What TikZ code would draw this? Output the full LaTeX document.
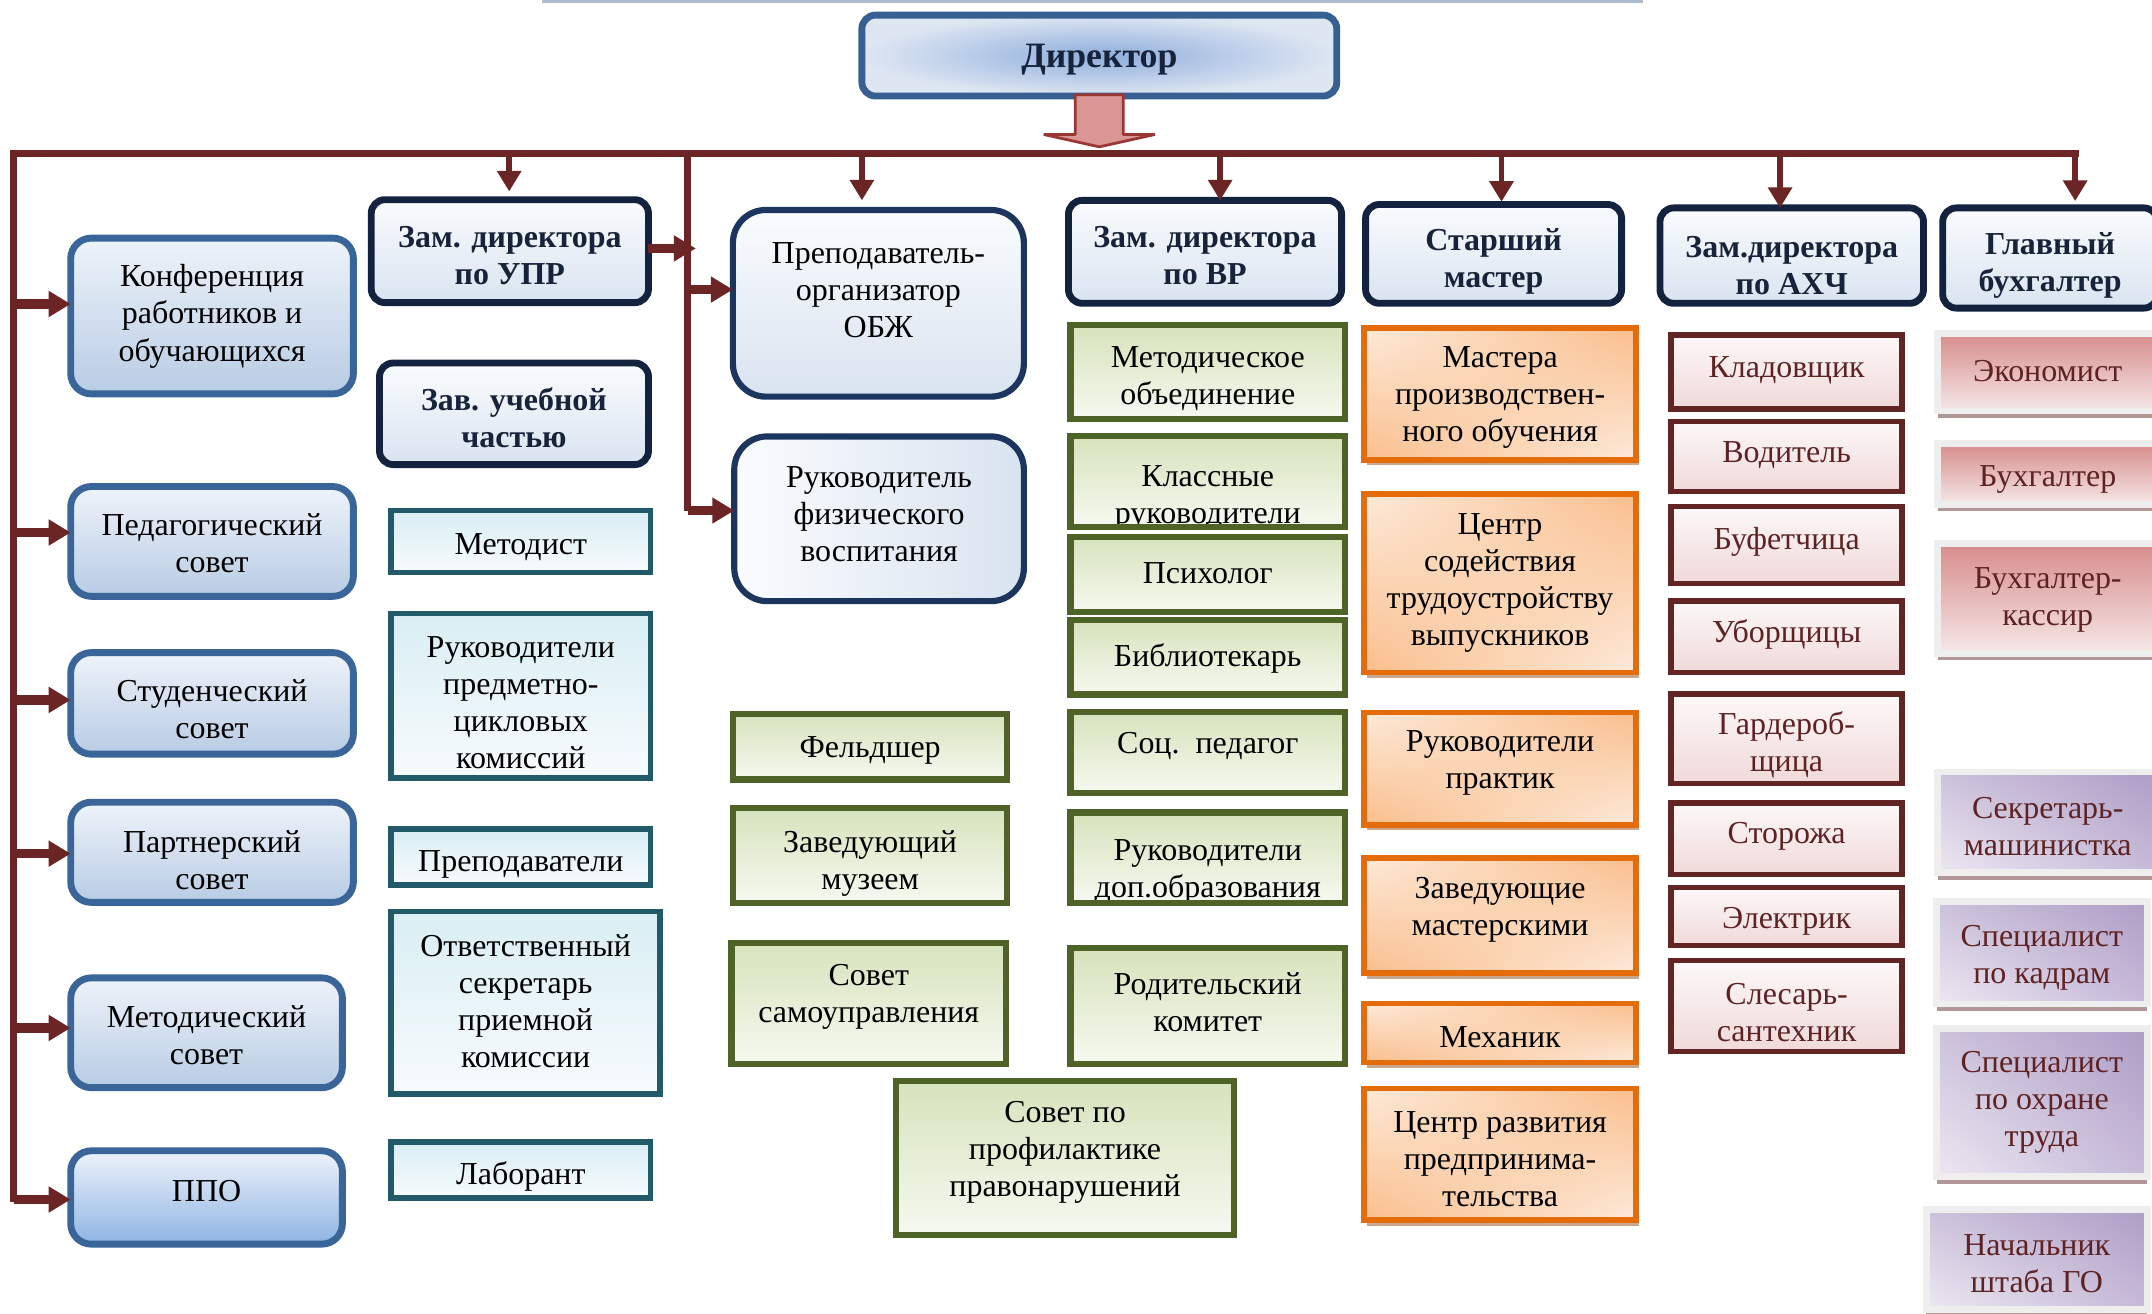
\documentclass[tikz,border=0pt]{standalone}
\usepackage{fontspec}
\setmainfont{Liberation Serif}
\usetikzlibrary{arrows.meta,shadows,shadings,calc}

\definecolor{cline}{HTML}{6B2525}
\definecolor{navy}{HTML}{13233F}
\definecolor{navyt}{HTML}{17233A}
\definecolor{hdrtop}{HTML}{FAFCFE}
\definecolor{hdrbot}{HTML}{D9E3F0}
\definecolor{dirb}{HTML}{375F92}
\definecolor{dirin}{HTML}{8EAEDC}
\definecolor{dirout}{HTML}{DEE6F2}
\definecolor{lftb}{HTML}{3A6598}
\definecolor{lfttop}{HTML}{EEF3FA}
\definecolor{lftbot}{HTML}{B8CCE4}
\definecolor{ppobot}{HTML}{8EB4E3}
\definecolor{obzhb}{HTML}{1B355E}
\definecolor{tealb}{HTML}{215A69}
\definecolor{tealtop}{HTML}{D9EEF4}
\definecolor{tealbot}{HTML}{F7FBFD}
\definecolor{grnb}{HTML}{4F6228}
\definecolor{grntop}{HTML}{D6E3BC}
\definecolor{grnbot}{HTML}{F6F9F0}
\definecolor{orb}{HTML}{E46C0A}
\definecolor{orlight}{HTML}{FDEADA}
\definecolor{ordark}{HTML}{F9BE8C}
\definecolor{orsh}{HTML}{C9A78E}
\definecolor{redb}{HTML}{632523}
\definecolor{redtop}{HTML}{FDF8F8}
\definecolor{redbot}{HTML}{F0D9D9}
\definecolor{redtx}{HTML}{5E2222}
\definecolor{frm}{HTML}{EEEEEE}
\definecolor{pktop}{HTML}{D68C8B}
\definecolor{pkbot}{HTML}{F6E8E8}
\definecolor{pksh}{HTML}{B39797}
\definecolor{puUR}{HTML}{AE9DC6}
\definecolor{puUL}{HTML}{CCC2DB}
\definecolor{puLL}{HTML}{ECE8F2}
\definecolor{puLR}{HTML}{C6BAD8}
\definecolor{topln}{HTML}{AEBBCB}
\definecolor{blkf}{HTML}{D99694}
\definecolor{blkd}{HTML}{9A3735}

\newcommand\fs{\fontsize{23.3pt}{27pt}\selectfont}

% #1 box style, #2 name, #3 x1, #4 y1, #5 x2, #6 y2, #7 text y, #8 text style, #9 text
\newcommand\bx[9]{%
  \node[#1, minimum width={(#5-#3)*1pt}, minimum height={(#6-#4)*1pt}] (#2) at ({(#3+#5)/2},{(#4+#6)/2}) {};
  \node[txt, #8] (#2t) at ({(#3+#5)/2},#7) {#9};
}

\tikzset{
  txt/.style={align=center, inner sep=0pt, font=\fs, text=black, yshift=-2.5pt},
  hdrt/.style={font=\fs\bfseries, text=navyt},
  redt/.style={text=redtx},
  box/.style={inner sep=0pt, outer sep=0pt},
  dirbox/.style={box, draw=dirb, line width=5pt, rounded corners=10pt, inner color=dirin, outer color=dirout},
  hdr/.style={box, draw=navy, line width=5pt, rounded corners=10pt, top color=hdrtop, bottom color=hdrbot},
  big/.style={box, draw=obzhb, line width=4.5pt, rounded corners=24pt, top color=hdrtop, bottom color=hdrbot},
  bigh/.style={box, draw=obzhb, line width=4.5pt, rounded corners=24pt, left color=hdrtop, right color=hdrbot},
  lft/.style={box, draw=lftb, line width=5pt, rounded corners=15pt, top color=lfttop, bottom color=lftbot},
  lftp/.style={lft, bottom color=ppobot},
  teal/.style={box, draw=tealb, line width=4pt, top color=tealtop, bottom color=tealbot},
  grn/.style={box, draw=grnb, line width=4.5pt, top color=grntop, bottom color=grnbot},
  org/.style={box, draw=orb, line width=4pt, upper left=orlight, upper right=ordark, lower left=ordark, lower right=orlight,
     drop shadow={shadow xshift=2pt, shadow yshift=-4pt, fill=orsh, opacity=1}},
  redbox/.style={box, draw=redb, line width=4pt, top color=redtop, bottom color=redbot},
  pink/.style={box, draw=frm, line width=5pt, top color=pktop, bottom color=pkbot,
     drop shadow={shadow xshift=0pt, shadow yshift=-5pt, fill=pksh, opacity=1}},
  purp/.style={box, draw=frm, line width=5pt, upper left=puUL, upper right=puUR, lower left=puLL, lower right=puLR,
     drop shadow={shadow xshift=0pt, shadow yshift=-5pt, fill=pksh, opacity=1}},
  bus/.style={draw=cline, line width=5pt},
  drop/.style={draw=cline, line width=4pt, -{Triangle[width=17pt,length=15pt]}},
  larr/.style={draw=cline, line width=7pt, -{Triangle[width=18pt,length=16pt]}},
  blk/.style={fill=blkf, draw=blkd, line width=2pt, line join=bevel},
}

\begin{document}
\begin{tikzpicture}[x=1pt,y=-1pt]
\useasboundingbox (0,0) rectangle (1568,957);
\fill[white] (0,0) rectangle (1568,957);
\begin{scope}
\clip (0,0) rectangle (1568,957);

\coordinate (tlL) at (395,1);
\coordinate (tlR) at (1197,1);
\draw[topln, line width=2pt] (tlL) -- (tlR);

% Director
\bx{dirbox}{dir}{628}{11}{974}{70}{41}{font=\fontsize{26pt}{30pt}\selectfont\bfseries, text=navyt}{Директор}

% header boxes
\bx{hdr}{upr}{270.5}{145.5}{472.5}{220.5}{184}{hdrt}{Зам. директора\\по УПР}
\bx{hdr}{zav}{276.5}{264.5}{472.5}{338.5}{302}{hdrt}{Зав. учебной\\частью}
\bx{big}{obzh}{534}{153}{746}{289}{209}{}{Преподаватель-\\организатор\\ОБЖ}
\bx{bigh}{fiz}{535}{318}{746}{438}{372}{}{Руководитель\\физического\\воспитания}
\bx{hdr}{vr}{778.5}{146}{977.5}{221}{184}{hdrt}{Зам. директора\\по ВР}
\bx{hdr}{stm}{995}{149}{1181.5}{221}{188}{hdrt}{Старший\\мастер}
\bx{hdr}{ahch}{1209.5}{151.5}{1401.5}{221}{191}{hdrt}{Зам.директора\\по АХЧ}
\bx{hdr}{glb}{1415.5}{151.5}{1572}{224.5}{191}{hdrt}{Главный\\бухгалтер}

% left column
\bx{lft}{konf}{51.5}{173.5}{257.5}{287}{228}{}{Конференция\\работников и\\обучающихся}
\bx{lft}{ped}{51.5}{354.5}{257.5}{434.5}{393.5}{}{Педагогический\\совет}
\bx{lft}{stud}{51.5}{475.5}{257.5}{549.5}{514.5}{}{Студенческий\\совет}
\bx{lft}{part}{51.5}{584.5}{257.5}{657.5}{624.5}{}{Партнерский\\совет}
\bx{lft}{msov}{51.5}{712.5}{249.5}{792.5}{751.5}{}{Методический\\совет}
\bx{lftp}{ppo}{51.5}{838.5}{249.5}{906.5}{865}{}{ППО}

% teal column
\bx{teal}{metod}{285}{372}{474}{417}{396}{}{Методист}
\bx{teal}{pck}{285}{447}{474}{567}{509.5}{}{Руководители\\предметно-\\цикловых\\комиссий}
\bx{teal}{prep}{285}{604}{474}{645}{627}{}{Преподаватели}
\bx{teal}{otv}{285}{664}{481}{797}{727}{}{Ответственный\\секретарь\\приемной\\комиссии}
\bx{teal}{lab}{285}{832}{474}{873}{855}{}{Лаборант}

% green
\bx{grn}{mo}{780}{237}{980}{305.5}{273.5}{}{Методическое\\объединение}
\node[grn, minimum width=200pt, minimum height=66.5pt] (kl) at (880,350.75) {};
\begin{scope}
\clip ([yshift=2.5pt]kl.south west) rectangle (kl.north east);
\node[txt] (klt) at (880,360) {Классные\\руководители};
\end{scope}
\bx{grn}{psy}{780}{391}{980}{446}{415}{}{Психолог}
\bx{grn}{bib}{780}{452}{980}{506}{477}{}{Библиотекарь}
\bx{grn}{soc}{780}{519}{980}{578}{541}{}{Соц.\ \ педагог}
\node[grn, minimum width=200pt, minimum height=66pt] (dop) at (880,625) {};
\begin{scope}
\clip ([yshift=2.5pt]dop.south west) rectangle (dop.north east);
\node[txt] (dopt) at (880,633) {Руководители\\доп.образования};
\end{scope}
\bx{grn}{rod}{780}{691}{980}{775}{727.5}{}{Родительский\\комитет}
\bx{grn}{feld}{534}{520}{734}{568}{544}{}{Фельдшер}
\bx{grn}{muz}{534}{589}{734}{658}{626.5}{}{Заведующий\\музеем}
\bx{grn}{ssam}{533}{687}{733}{775}{723.5}{}{Совет\\самоуправления}
\bx{grn}{prof}{653}{787.5}{899}{900}{837}{}{Совет по\\профилактике\\правонарушений}

% orange
\bx{org}{mpo}{994}{239}{1192}{335}{287}{}{Мастера\\производствен-\\ного обучения}
\bx{org}{csod}{994}{360}{1192}{490}{422.5}{}{Центр\\содействия\\трудоустройству\\выпускников}
\bx{org}{rprak}{994}{519}{1192}{601}{553.5}{}{Руководители\\практик}
\bx{org}{zmas}{994}{625}{1192}{709}{660.5}{}{Заведующие\\мастерскими}
\bx{org}{mech}{994}{731}{1192}{774}{753}{}{Механик}
\bx{org}{crazv}{994}{793}{1192}{889}{842}{}{Центр развития\\предпринима-\\тельства}

% dark red
\bx{redbox}{klad}{1217.5}{244}{1386}{298}{267}{redt}{Кладовщик}
\bx{redbox}{vod}{1217.5}{307}{1386}{358}{329}{redt}{Водитель}
\bx{redbox}{buf}{1217.5}{369}{1386}{425}{392}{redt}{Буфетчица}
\bx{redbox}{ubor}{1217.5}{438}{1386}{490}{460}{redt}{Уборщицы}
\bx{redbox}{gard}{1217.5}{505.5}{1386}{571}{540.5}{redt}{Гардероб-\\щица}
\bx{redbox}{stor}{1217.5}{585}{1386}{637}{607}{redt}{Сторожа}
\bx{redbox}{elek}{1217.5}{646.5}{1386}{689}{669}{redt}{Электрик}
\bx{redbox}{sles}{1217.5}{700}{1386}{766}{735.5}{redt}{Слесарь-\\сантехник}

% pink / purple
\bx{pink}{ekon}{1412}{243}{1572}{299.5}{268}{redt}{Экономист}
\bx{pink}{buh}{1412}{323}{1572}{367.5}{347}{redt}{Бухгалтер}
\bx{pink}{bkas}{1412}{396}{1572}{476}{434.5}{redt}{Бухгалтер-\\кассир}
\bx{purp}{sekr}{1412}{562.5}{1572}{636}{600}{redt}{Секретарь-\\машинистка}
\bx{purp}{kadr}{1411}{657}{1564.5}{731.5}{695.5}{redt}{Специалист\\по кадрам}
\bx{purp}{ohr}{1411}{749.5}{1564.5}{857.5}{801}{redt}{Специалист\\по охране\\труда}
\bx{purp}{go}{1403.5}{881}{1564.5}{954}{918.5}{redt}{Начальник\\штаба ГО}

% connectors
\coordinate (busL) at (10,112);
\coordinate (busR) at (1514.5,112);
\coordinate (lvB) at (10,876);
\draw[bus] (busR) -- (busL) -- (lvB);

\draw[blk] ([xshift=-17.5pt,yshift=1pt]dir.south) -- ++(35,0) -- ++(0,29) -- ++(23,0) -- ++(-40.5,9) -- ++(-40.5,-9) -- ++(23,0) -- cycle;

\coordinate (v2T) at (501,112);
\coordinate (v2B) at (501,372);
\draw[bus] (v2T) -- (v2B);

\coordinate (d1) at (371,112);
\coordinate (d2) at (628,112);
\coordinate (d3) at (889,112);
\coordinate (d4) at (1094,112);
\coordinate (d5) at (1297,112);
\coordinate (d6) at (1512,112);
\draw[drop, shorten >=6pt] (d1) -- (d1 |- upr.north);
\draw[drop, shorten >=7pt] (d2) -- (d2 |- obzh.north);
\draw[drop] (d3) -- (d3 |- vr.north);
\draw[drop, shorten >=2pt] (d4) -- (d4 |- stm.north);
\draw[drop] (d5) -- (d5 |- ahch.north);
\draw[drop, shorten >=5pt] (d6) -- (d6 |- glb.north);

\coordinate (a1) at (10,221.5);
\coordinate (a2) at (10,388);
\coordinate (a3) at (10,510);
\coordinate (a4) at (10,622);
\coordinate (a5) at (10,749);
\coordinate (a6) at (10,874);
\draw[larr] (a1) -- (a1 -| konf.west);
\draw[larr] (a2) -- (a2 -| ped.west);
\draw[larr] (a3) -- (a3 -| stud.west);
\draw[larr] (a4) -- (a4 -| part.west);
\draw[larr] (a5) -- (a5 -| msov.west);
\draw[larr] (a6) -- (a6 -| ppo.west);

\coordinate (uA) at (507,181);
\draw[larr] (uA -| upr.east) -- (uA);
\coordinate (v2a) at (501,211);
\draw[larr] (v2a) -- (v2a -| obzh.west);
\draw[larr] (v2B) -- (v2B -| fiz.west);

\end{scope}
\end{tikzpicture}
\end{document}
